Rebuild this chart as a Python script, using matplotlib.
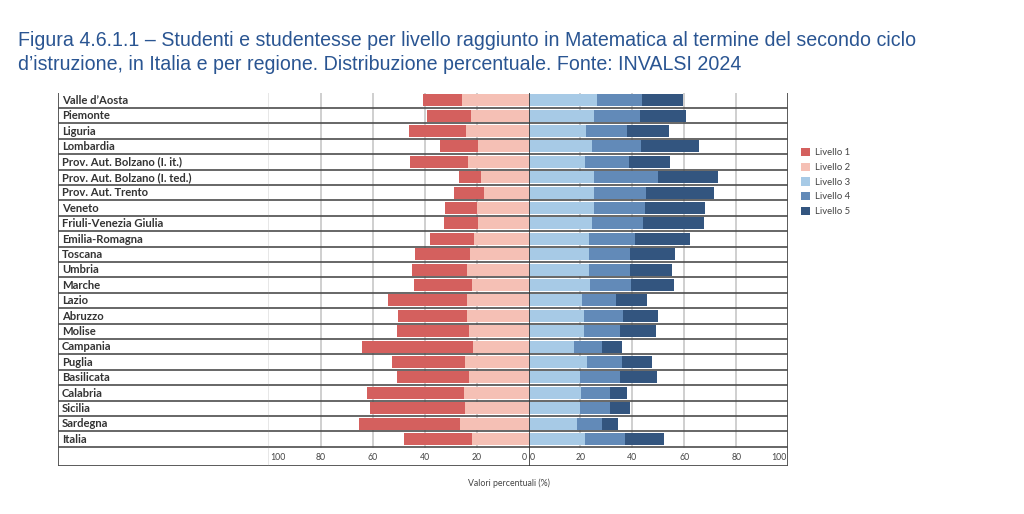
import matplotlib
matplotlib.use("Agg")
import matplotlib.pyplot as plt
from matplotlib.patches import Patch

# --- data (percentages) ---
regions = [
    "Valle d\u2019Aosta", "Piemonte", "Liguria", "Lombardia",
    "Prov. Aut. Bolzano (I. it.)", "Prov. Aut. Bolzano (I. ted.)",
    "Prov. Aut. Trento", "Veneto", "Friuli-Venezia Giulia", "Emilia-Romagna",
    "Toscana", "Umbria", "Marche", "Lazio", "Abruzzo", "Molise", "Campania",
    "Puglia", "Basilicata", "Calabria", "Sicilia", "Sardegna", "Italia",
]
livello1 = [15.2, 16.9, 21.8, 14.5, 22.3, 8.6, 11.3, 12.2, 12.9, 17.1, 21.0, 21.1,
            22.2, 30.4, 26.5, 27.7, 42.6, 28.0, 27.8, 37.1, 36.2, 39.1, 25.8]
livello2 = [25.4, 22.2, 24.1, 19.5, 23.3, 18.3, 17.2, 19.9, 19.5, 20.8, 22.6, 23.8,
            21.9, 23.8, 23.8, 22.9, 21.5, 24.6, 22.7, 25.0, 24.6, 26.2, 21.9]
livello3 = [26.3, 25.1, 22.0, 24.4, 21.8, 25.1, 25.1, 25.1, 24.6, 23.1, 23.1, 23.1,
            23.5, 20.6, 21.5, 21.5, 17.7, 22.4, 20.0, 20.4, 19.7, 18.5, 21.9]
livello4 = [17.3, 17.8, 15.8, 19.0, 16.8, 24.6, 20.3, 19.8, 19.6, 17.8, 15.9, 16.1,
            15.9, 13.1, 15.0, 13.6, 10.6, 13.4, 15.4, 11.0, 11.5, 9.7, 15.4]
livello5 = [15.8, 17.9, 16.2, 22.4, 15.8, 23.2, 26.1, 22.9, 23.5, 21.3, 17.3, 15.9,
            16.5, 11.9, 13.2, 14.0, 7.5, 11.8, 14.1, 6.4, 8.0, 6.4, 15.0]
ticks = [0, 20, 40, 60, 80, 100]

colors = ["#D4605E", "#F5C0B5", "#A7CAE6", "#628AB8", "#33557F"]
level_names = ["Livello 1", "Livello 2", "Livello 3", "Livello 4", "Livello 5"]

W, H = 1024, 514
fig = plt.figure(figsize=(W / 100, H / 100), dpi=100)

def fx(px):
    return px / W

def fy(py):
    return 1 - py / H

box_top, box_bot = 92.5, 466
row_h = (446.7 - box_top) / len(regions)
extra = (box_bot - 446.7) / row_h
ymin, ymax = -0.5, len(regions) - 0.5 + extra

x_lab, x_l, x_0, x_r = 58.3, 268.5, 528.5, 788.3
rect_y = fy(box_bot)
rect_h = (box_bot - box_top) / H
ax_lab = fig.add_axes([fx(x_lab), rect_y, fx(x_l - x_lab), rect_h])
ax_l = fig.add_axes([fx(x_l), rect_y, fx(x_0 - x_l), rect_h])
ax_r = fig.add_axes([fx(x_0), rect_y, fx(x_r - x_0), rect_h])

dark = "#4d4d4d"
grid = "#c2c2c2"
y = list(range(len(regions)))
bar_h = 0.78

for ax in (ax_lab, ax_l, ax_r):
    ax.set_ylim(ymax, ymin)
    ax.set_xticks([])
    ax.set_yticks([])
    for s in ax.spines.values():
        s.set_visible(False)
    for i in range(len(regions)):
        ax.axhline(i + 0.5, color=dark, lw=1.2, zorder=3)
    ax.axhline(ymin, color=dark, lw=1.3, zorder=3)
    ax.axhline(ymax, color=dark, lw=1.3, zorder=3)

ax_lab.set_xlim(0, 1)
ax_l.set_xlim(100, 0)
ax_r.set_xlim(0, 100)

# label column
for i, name in enumerate(regions):
    ax_lab.text(0.018, i + 0.02, name, ha="left", va="center", fontsize=8.1,
                family="Lato", weight="bold", color="#333333")
ax_lab.axvline(0, color=dark, lw=1.3, zorder=3)
ax_lab.axvline(1, color="#888888", lw=1, zorder=3)

# grid lines inside the panels
for ax in (ax_l, ax_r):
    for t in [20, 40, 60, 80]:
        ax.plot([t, t], [ymin, len(regions) - 0.5], color=grid, lw=1.1, zorder=1)

# bars
ax_l.barh(y, livello2, height=bar_h, color=colors[1], zorder=2)
ax_l.barh(y, livello1, left=livello2, height=bar_h, color=colors[0], zorder=2)
ax_r.barh(y, livello3, height=bar_h, color=colors[2], zorder=2)
ax_r.barh(y, livello4, left=livello3, height=bar_h, color=colors[3], zorder=2)
left5 = [a + b for a, b in zip(livello3, livello4)]
ax_r.barh(y, livello5, left=left5, height=bar_h, color=colors[4], zorder=2)

ax_r.axvline(0, color="#333333", lw=1.2, zorder=4)
ax_r.axvline(100, color=dark, lw=1.3, zorder=4)

# tick labels in the bottom row
ty = len(regions) - 0.5 + extra / 2 + 0.05
for ax, side in ((ax_l, "l"), (ax_r, "r")):
    for t in ticks:
        ha = "center"
        if t == 0:
            ha = "left" if side == "r" else "right"
            xt = 0.6
        elif t == 100:
            ha = "left" if side == "l" else "right"
            xt = 99.4
        else:
            xt = t
        ax.text(xt, ty, str(t), ha=ha, va="center", fontsize=6.3,
                family="Lato", color="#444444")

fig.text(fx(509), fy(483), "Valori percentuali (%)", ha="center", va="center",
         fontsize=6.3, family="Lato", color="#444444")

# legend
handles = [Patch(facecolor=c, edgecolor="none") for c in colors]
fig.legend(handles, level_names, loc="upper left",
           bbox_to_anchor=(fx(801), fy(148)), frameon=False,
           prop={"family": "Lato", "size": 6.8}, labelcolor="#444444",
           handlelength=1.0, handleheight=1.0, labelspacing=0.55,
           handletextpad=0.5, borderaxespad=0, borderpad=0)

# title
title = ("Figura 4.6.1.1 \u2013 Studenti e studentesse per livello raggiunto in "
         "Matematica al termine del secondo ciclo\n"
         "d\u2019istruzione, in Italia e per regione. Distribuzione percentuale. "
         "Fonte: INVALSI 2024")
fig.text(fx(18), fy(31), title, ha="left", va="top", fontsize=14.1,
         family="Liberation Sans", color="#2A5592", linespacing=1.3)

fig.savefig("out.png", dpi=100, facecolor="white")
